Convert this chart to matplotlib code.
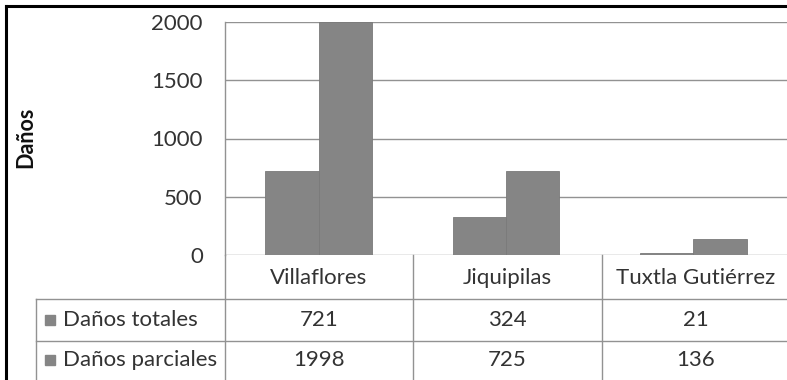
import matplotlib
matplotlib.use("Agg")
import matplotlib.pyplot as plt
from matplotlib.lines import Line2D
from matplotlib.patches import Rectangle
import numpy as np

categories = ["Villaflores", "Jiquipilas", "Tuxtla Gutiérrez"]
series_names = ["Daños totales", "Daños parciales"]
danos_totales = [721, 324, 21]
danos_parciales = [1998, 725, 136]
yticks = [0, 500, 1000, 1500, 2000]
ylabel = "Daños"

plt.rcParams['font.family'] = ['Lato', 'DejaVu Sans']
TXT = '#333333'
BAR = '#858585'
GRID = '#929292'
FS = 16

W, H = 787, 380
fig = plt.figure(figsize=(W / 100, H / 100), dpi=100)
fig.patch.set_facecolor('white')

def fx(px):
    return px / W

def fy(py):
    return 1 - py / H

ax_left, ax_right, ax_top, ax_bot = 225, 787, 22, 255
ax = fig.add_axes([fx(ax_left), fy(ax_bot), fx(ax_right) - fx(ax_left), fy(ax_top) - fy(ax_bot)])
ax.set_xlim(-0.5, len(categories) - 0.5)
ax.set_ylim(0, 2000)

x = np.arange(len(categories))
bw = 0.285
ax.bar(x - bw / 2, danos_totales, bw, color=BAR, edgecolor='#7a7a7a', linewidth=0.6, zorder=3)
ax.bar(x + bw / 2, danos_parciales, bw, color=BAR, edgecolor='#7a7a7a', linewidth=0.6, zorder=3)

ax.set_yticks(yticks)
ax.set_yticklabels([str(v) for v in yticks], fontsize=FS, color=TXT)
ax.tick_params(axis='y', length=0, pad=16)
ax.set_xticks([])
for s in ['top', 'right', 'bottom']:
    ax.spines[s].set_visible(False)
ax.spines['left'].set_color(GRID)
ax.spines['left'].set_linewidth(1.0)
ax.yaxis.grid(True, color=GRID, linewidth=1.0, zorder=0)
ax.set_axisbelow(True)

fig.text(fx(26), fy(137), ylabel, rotation=90, ha='center', va='center',
         fontsize=15.5, fontweight='bold', color='#111111')

# Data table
def hline(y, x0, x1):
    fig.add_artist(Line2D([fx(x0), fx(x1)], [fy(y), fy(y)], color=GRID, linewidth=1.0))

def vline(xp, y0, y1):
    fig.add_artist(Line2D([fx(xp), fx(xp)], [fy(y0), fy(y1)], color=GRID, linewidth=1.0))

col_edges = [225, 413, 602, 790]
vline(225, 255, 380)
for xe in col_edges[1:-1]:
    vline(xe, 255, 380)
vline(36, 299, 380)
hline(299, 36, 787)
hline(341, 36, 787)

row_centers = [320, 360]
for i, c in enumerate(categories):
    cx = (col_edges[i] + col_edges[i + 1]) / 2
    fig.text(fx(cx), fy(278), c, ha='center', va='center', fontsize=FS, color=TXT)
for r, (name, vals) in enumerate(zip(series_names, [danos_totales, danos_parciales])):
    cy = row_centers[r]
    fig.add_artist(Rectangle((fx(45), fy(cy + 5)), fx(10), 10 / H, color=BAR, transform=fig.transFigure))
    fig.text(fx(63), fy(cy), name, ha='left', va='center', fontsize=FS, color=TXT)
    for i, v in enumerate(vals):
        cx = (col_edges[i] + col_edges[i + 1]) / 2
        fig.text(fx(cx), fy(cy), str(v), ha='center', va='center', fontsize=FS, color=TXT)

# black frame (top and left)
fig.add_artist(Line2D([fx(6), fx(787)], [fy(5.5), fy(5.5)], color='black', linewidth=2.2))
fig.add_artist(Line2D([fx(6), fx(6)], [fy(5.5), fy(380)], color='black', linewidth=2.2))

fig.savefig('out.png', dpi=100, facecolor='white')
